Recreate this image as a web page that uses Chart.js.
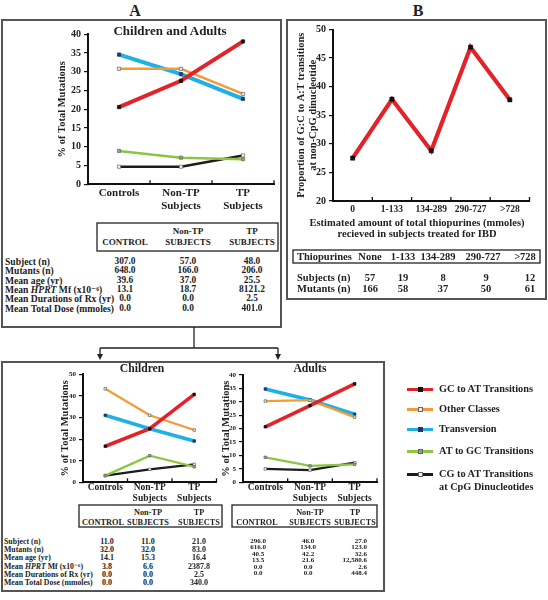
<!DOCTYPE html>
<html>
<head>
<meta charset="utf-8">
<script src="https://cdn.jsdelivr.net/npm/chart.js@4.4.1/dist/chart.umd.min.js"></script>
<style>
  html, body { margin: 0; padding: 0; background: #fff; }
  #page { position: relative; width: 548px; height: 600px; overflow: hidden;
          font-family: "Liberation Serif", "DejaVu Serif", serif; font-weight: bold; color: #222; }
  canvas, svg { position: absolute; }
  .t { position: absolute; white-space: nowrap; line-height: 1; }
</style>
</head>
<body>
<div id="page">
  <svg width="548" height="600" style="left:0;top:0">
    <g fill="none" stroke="#555" stroke-width="2">
      <rect x="2" y="20" width="279" height="307"/>
      <rect x="287" y="20" width="259" height="279"/>
      <rect x="2" y="362" width="382" height="229"/>
    </g>
    <g fill="none" stroke="#222" stroke-width="1.3">
      <rect x="97" y="223" width="181" height="28"/>
      <rect x="293" y="250" width="247" height="13"/>
      <rect x="79" y="505" width="143" height="22"/>
      <rect x="232" y="505" width="145" height="22"/>
      <path d="M194 327 V348 M100 348 H278 M100 348 V355 M278 348 V355"/>
    </g>
    <g fill="#222">
      <polygon points="97,354 103,354 100,360"/>
      <polygon points="275,354 281,354 278,360"/>
    </g>
  </svg>
  <canvas id="cAll" width="240" height="200" style="left:40px;top:22px"></canvas>
  <canvas id="cDose" width="245" height="200" style="left:290px;top:20px"></canvas>
  <canvas id="cKids" width="172" height="147" style="left:50px;top:360px"></canvas>
  <canvas id="cAdults" width="172" height="147" style="left:210px;top:360px"></canvas>
</div>
<script>
// ---------- DATA ----------
const groups = [["Controls"], ["Non-TP", "Subjects"], ["TP", "Subjects"]];
const seriesNames = ["GC to AT Transitions", "Other Classes", "Transversion",
                     "AT to GC Transitions", "CG to AT Transitions at CpG Dinucleotides"];

// Children and Adults, % of total mutations
const allGcAt   = [20.6, 27.6, 38.1];
const allOther  = [30.8, 30.8, 24.1];
const allTransv = [34.6, 29.4, 22.8];
const allAtGc   = [8.9, 7.1, 6.7];
const allCpG    = [4.7, 4.7, 7.7];

// Children
const kidGcAt   = [16.7, 24.8, 40.7];
const kidOther  = [43.3, 31.0, 24.2];
const kidTransv = [31.0, 24.8, 19.1];
const kidAtGc   = [3.1, 12.3, 7.2];
const kidCpG    = [3.1, 6.0, 8.3];

// Adults
const adGcAt   = [20.7, 28.6, 36.7];
const adOther  = [30.3, 30.6, 24.3];
const adTransv = [34.8, 30.7, 25.4];
const adAtGc   = [9.3, 6.1, 6.7];
const adCpG    = [5.0, 4.5, 7.3];

// Panel B
const doseLabels = ["0", "1-133", "134-289", "290-727", ">728"];
const gcAtByDose = [27.5, 37.8, 28.8, 46.9, 37.7];
const thioHeads = ["None", "1-133", "134-289", "290-727", ">728"];
const subjectsByDose = [57, 19, 8, 9, 12];
const mutantsByDose = [166, 58, 37, 50, 61];

// Tables
const statNames = ["Subject (n)", "Mutants (n)", "Mean age (yr)", "Mean <i>HPRT</i> Mf (x10⁻⁶)",
                   "Mean Durations of Rx (yr)", "Mean Total Dose (mmoles)"];
const allControl = ["307.0", "648.0", "39.6", "13.1", "0.0", "0.0"];
const allNonTp   = ["57.0", "166.0", "37.0", "18.7", "0.0", "0.0"];
const allTp      = ["48.0", "206.0", "25.5", "8121.2", "2.5", "401.0"];
const kidControl = ["11.0", "32.0", "14.1", "3.8", "0.0", "0.0"];
const kidNonTp   = ["11.0", "32.0", "15.3", "6.6", "0.0", "0.0"];
const kidTp      = ["21.0", "83.0", "16.4", "2387.8", "2.5", "340.0"];
const adControl  = ["296.0", "616.0", "40.5", "13.5", "0.0", "0.0"];
const adNonTp    = ["46.0", "134.0", "42.2", "21.6", "0.0", "0.0"];
const adTp       = ["27.0", "123.0", "32.6", "12,580.6", "2.6", "448.4"];

// ---------- STYLE ----------
const SERIES_STYLE = [
  { color: "#e2232a", width: 4,   mark: "#111",    edge: "#111" },
  { color: "#f39c35", width: 2.5, mark: "#e6e6e6", edge: "#666" },
  { color: "#1fb0e6", width: 4,   mark: "#1b3b66", edge: "#1b3b66" },
  { color: "#8cc540", width: 2.5, mark: "#999",    edge: "#666" },
  { color: "#1c1c1c", width: 2.5, mark: "#f4f4f4", edge: "#666" },
];

Chart.defaults.font.family = '"Liberation Serif", "DejaVu Serif", serif';
Chart.defaults.font.weight = "bold";
Chart.defaults.color = "#222";

// small upward ticks at category boundaries on the x axis
const innerTicks = {
  id: "innerTicks",
  afterDraw(chart) {
    const x = chart.scales.x, ctx = chart.ctx;
    const n = chart.data.labels.length;
    const half = (x.getPixelForValue(1) - x.getPixelForValue(0)) / 2;
    ctx.save();
    ctx.strokeStyle = "#111";
    ctx.lineWidth = 1.3;
    for (let i = 0; i < n; i++) {
      const px = x.getPixelForValue(i) + half;
      ctx.beginPath();
      ctx.moveTo(px, x.top);
      ctx.lineTo(px, x.top - 4);
      ctx.stroke();
    }
    ctx.restore();
  },
};

function mutSets(series, k, r) {
  return series.map((vals, i) => {
    const st = SERIES_STYLE[i];
    return {
      label: seriesNames[i],
      data: vals,
      borderColor: st.color,
      backgroundColor: st.color,
      borderWidth: st.width * k,
      pointStyle: "rect",
      pointRadius: r,
      pointBackgroundColor: st.mark,
      pointBorderColor: st.edge,
      pointBorderWidth: 0.7,
      tension: 0,
    };
  });
}

function makeChart(id, labels, datasets, o) {
  return new Chart(document.getElementById(id), {
    type: "line",
    data: { labels, datasets },
    options: {
      responsive: false,
      animation: false,
      layout: { padding: o.pad },
      plugins: { legend: { display: false }, tooltip: { enabled: false } },
      scales: {
        x: {
          offset: true,
          grid: { display: false, drawTicks: false },
          border: { color: "#111", width: 2 },
          ticks: { font: { size: o.xFont, lineHeight: o.xLh }, padding: o.xPad,
                   maxRotation: 0, autoSkip: false, color: "#222" },
          afterFit: (s) => { s.height = o.xH; },
        },
        y: {
          min: o.min, max: o.max,
          ticks: { stepSize: o.step, font: { size: o.yFont }, padding: 3, color: "#222" },
          grid: { drawOnChartArea: false, tickLength: 4, color: "#111", lineWidth: 1.2 },
          border: { color: "#111", width: 2 },
          title: { display: true, text: o.yTitle, color: "#222",
                   font: { size: o.tFont, lineHeight: o.tLh }, padding: { top: o.tPad, bottom: 0 } },
          afterFit: (s) => { s.width = o.yW; },
        },
      },
    },
    plugins: [innerTicks],
  });
}

// ---------- CHARTS ----------
makeChart("cAll", groups, mutSets([allGcAt, allOther, allTransv, allAtGc, allCpG], 1, 2.3), {
  pad: { left: 0, top: 12.3, right: 6, bottom: 0 }, yW: 48, xH: 37.7,
  min: 0, max: 40, step: 5, yFont: 10, xFont: 11, xLh: 1.2, xPad: 2.4,
  yTitle: "% of Total Mutations", tFont: 10.5, tLh: 1.2, tPad: 15.7,
});

makeChart("cDose", doseLabels, [{
  label: "G:C to A:T", data: gcAtByDose,
  borderColor: SERIES_STYLE[0].color, borderWidth: 4.2, tension: 0,
  pointStyle: "rect", pointRadius: 3, pointBackgroundColor: "#111", pointBorderColor: "#111",
  pointBorderWidth: 0.5,
}], {
  pad: { left: 6, top: 9.5, right: 5.5, bottom: 0 }, yW: 37, xH: 19,
  min: 20, max: 50, step: 5, yFont: 10, xFont: 9.5, xLh: 1.2, xPad: 3.3,
  yTitle: ["Proportion of G:C to A:T transitions", "at non-CpG dinucleotide"],
  tFont: 10.5, tLh: 1.1, tPad: 0,
});

makeChart("cKids", groups, mutSets([kidGcAt, kidOther, kidTransv, kidAtGc, kidCpG], 0.9, 1.8), {
  pad: { left: 0, top: 14.3, right: 5.5, bottom: 0 }, yW: 33, xH: 24.7,
  min: 0, max: 50, step: 10, yFont: 7, xFont: 9.5, xLh: 1.1, xPad: 0.5,
  yTitle: "% of Total Mutations", tFont: 10.5, tLh: 1.2, tPad: 8.7,
});

makeChart("cAdults", groups, mutSets([adGcAt, adOther, adTransv, adAtGc, adCpG], 0.9, 1.8), {
  pad: { left: 0, top: 15, right: 5, bottom: 0 }, yW: 33, xH: 24.7,
  min: 0, max: 40, step: 5, yFont: 7, xFont: 9.5, xLh: 1.1, xPad: 0.5,
  yTitle: "% of Total Mutations", tFont: 10.5, tLh: 1.2, tPad: 9.7,
});

// ---------- TEXT ----------
const page = document.getElementById("page");
function put(x, y, html, size, align = "c") {
  const d = document.createElement("div");
  d.className = "t";
  d.style.fontSize = size + "px";
  d.style.top = y + "px";
  if (align === "c") { d.style.left = x + "px"; d.style.transform = "translate(-50%,-50%)"; }
  else if (align === "l") { d.style.left = x + "px"; d.style.transform = "translateY(-50%)"; }
  else { d.style.right = (548 - x) + "px"; d.style.transform = "translateY(-50%)"; }
  d.innerHTML = html;
  page.appendChild(d);
}

put(135, 11, "A", 16);
put(418, 11, "B", 16);
put(170, 30, "Children and Adults", 13);
put(142, 369, "Children", 11.7);
put(310, 369, "Adults", 11.7);

// panel A table
put(188, 231, "Non-TP", 9);
put(252, 231, "TP", 9);
put(125, 242, "CONTROL", 9);
put(188, 242, "SUBJECTS", 9);
put(252, 242, "SUBJECTS", 9);
statNames.forEach((s, i) => {
  const y = 262 + 9.3 * i;
  put(5, y, s, 9.6, "l");
  put(125, y, allControl[i], 9.4);
  put(188, y, allNonTp[i], 9.4);
  put(252, y, allTp[i], 9.4);
});

// panel B axis title + table
put(417, 223, "Estimated amount of total thiopurines (mmoles)", 10.5);
put(417, 233.5, "recieved in subjects treated for IBD", 10.5);
put(297, 256.5, "Thiopurines", 10.5, "l");
const thioX = [370, 403, 438, 483, 525];
thioHeads.forEach((s, i) => put(thioX[i], 256.5, s, 10.5));
put(297, 278, "Subjects (n)", 10.5, "l");
put(297, 289, "Mutants (n)", 10.5, "l");
const doseColX = [370, 403, 443, 486, 530];
subjectsByDose.forEach((v, i) => put(doseColX[i], 278, String(v), 10.5));
mutantsByDose.forEach((v, i) => put(doseColX[i], 289, String(v), 10.5));

// children table
put(148, 513, "Non-TP", 8.3);
put(199, 513, "TP", 8.3);
put(103, 523, "CONTROL", 8.3);
put(148, 523, "SUBJECTS", 8.3);
put(199, 523, "SUBJECTS", 8.3);
statNames.forEach((s, i) => {
  const y = 541.7 + 8.33 * i;
  put(4, y, s, 7.8, "l");
  put(107, y, kidControl[i], 8);
  put(148, y, kidNonTp[i], 8);
  put(199, y, kidTp[i], 8);
});

// adults table
put(310, 513, "Non-TP", 8.2);
put(355, 513, "TP", 8.2);
put(257, 523, "CONTROL", 8.2);
put(310, 523, "SUBJECTS", 8.2);
put(355, 523, "SUBJECTS", 8.2);
adControl.forEach((v, i) => {
  const y = 540.7 + 6.55 * i;
  put(258, y, v, 7);
  put(308, y, adNonTp[i], 7);
  put(367, y, adTp[i], 7, "r");
});

// ---------- LEGEND ----------
const legendLines = [["GC to AT Transitions"], ["Other Classes"], ["Transversion"],
                     ["AT to GC Transitions"], ["CG to AT Transitions", "at CpG Dinucleotides"]];
const legendY = [389, 409, 429, 451, 474];
legendLines.forEach((lines, i) => {
  const st = SERIES_STYLE[i], y = legendY[i];
  const ln = document.createElement("div");
  Object.assign(ln.style, { position: "absolute", left: "407px", top: (y - 1.5) + "px",
                            width: "26px", height: "3px", background: st.color });
  const mk = document.createElement("div");
  Object.assign(mk.style, { position: "absolute", left: "418px", top: (y - 2) + "px",
                            width: "3px", height: "3px", background: st.mark,
                            border: "0.5px solid " + st.edge });
  page.appendChild(ln);
  page.appendChild(mk);
  lines.forEach((s, j) => put(439, y + 13 * j, s, 10.3, "l"));
});
</script>
</body>
</html>
